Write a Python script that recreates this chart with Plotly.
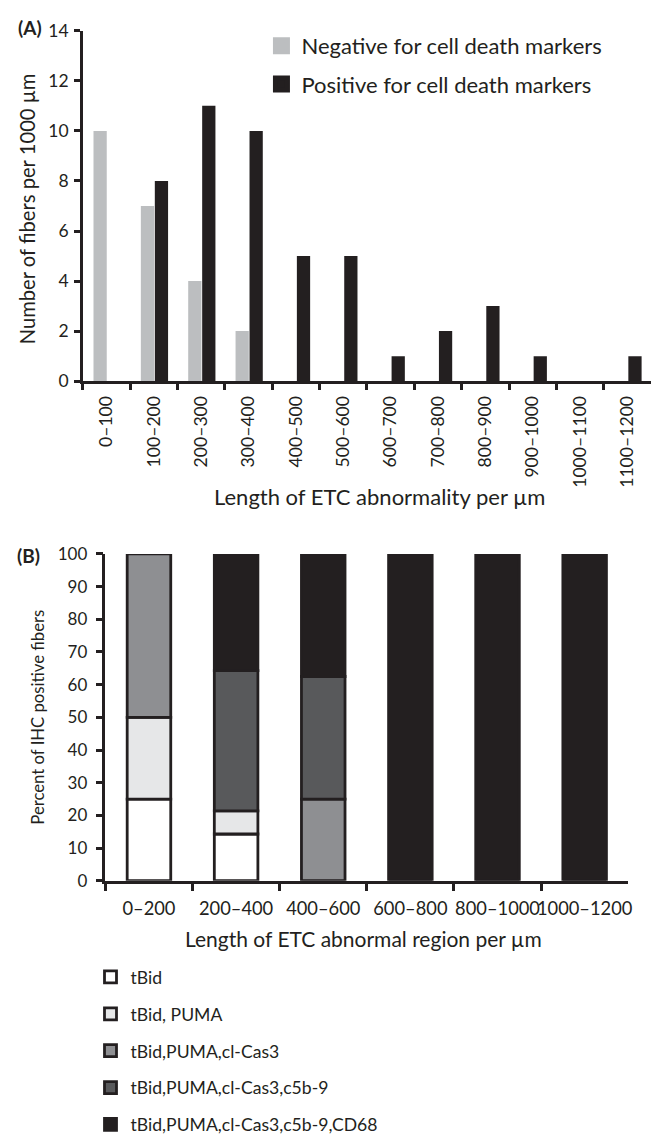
import numpy as np
import plotly.graph_objects as go

# ---------------- Data ----------------
cats_a = ["0–100", "100–200", "200–300", "300–400", "400–500", "500–600",
          "600–700", "700–800", "800–900", "900–1000", "1000–1100", "1100–1200"]
negative = [10, 7, 4, 2, 0, 0, 0, 0, 0, 0, 0, 0]
positive = [0, 8, 11, 10, 5, 5, 1, 2, 3, 1, 0, 1]
series_a_names = ["Negative for cell death markers", "Positive for cell death markers"]

cats_b = ["0–200", "200–400", "400–600", "600–800", "800–1000", "1000–1200"]
tbid = [25, 14.3, 0, 0, 0, 0]
tbid_puma = [25, 7.1, 0, 0, 0, 0]
tbid_puma_cas3 = [50, 0, 25, 0, 0, 0]
tbid_puma_cas3_c5b9 = [0, 42.9, 37.5, 0, 0, 0]
tbid_puma_cas3_c5b9_cd68 = [0, 35.7, 37.5, 100, 100, 100]
series_b_names = ["tBid", "tBid, PUMA", "tBid,PUMA,cl-Cas3",
                  "tBid,PUMA,cl-Cas3,c5b-9", "tBid,PUMA,cl-Cas3,c5b-9,CD68"]

# ---------------- Styles ----------------
PAGE_W, PAGE_H = 667, 1143
M = 8  # browser body margin
W, H = PAGE_W - M, PAGE_H - M
DARK = "#231f20"
FONT = "Lato"
colors_a = ["#bcbec0", DARK]
colors_b = ["#ffffff", "#e6e7e8", "#8e8f92", "#58595b", DARK]


def px_x(p):
    return (p - M) / W


def px_y(p):
    return 1 - (p - M) / H


def nz(vals):
    return [v if v else None for v in vals]


fig = go.Figure()

# Panel A: grouped bars via explicit offsets
offsets_a = [-0.275, 0.02]
widths_a = [0.28, 0.28]
for i, (name, vals, col, off, wd) in enumerate(zip(series_a_names, [negative, positive],
                                                   colors_a, offsets_a, widths_a)):
    fig.add_trace(go.Bar(
        x=cats_a, y=nz(vals), name=name,
        marker=dict(color=col, line=dict(width=0, color=col)),
        offset=off, width=wd, xaxis="x", yaxis="y", legend="legend",
        legendgroup=f"a{i}", showlegend=False))
    # legend-only twin with a larger swatch
    fig.add_trace(go.Bar(
        x=[None], y=[None], name=name,
        marker=dict(color=col, line=dict(width=6, color=col)),
        xaxis="x", yaxis="y", legend="legend", legendgroup=f"a{i}", showlegend=True))

# Panel B: stacked bars via cumulative base
stack = np.array([tbid, tbid_puma, tbid_puma_cas3, tbid_puma_cas3_c5b9,
                  tbid_puma_cas3_c5b9_cd68], dtype=float)
bases = np.vstack([np.zeros(stack.shape[1]), np.cumsum(stack, axis=0)[:-1]])
for i, (name, col) in enumerate(zip(series_b_names, colors_b)):
    fig.add_trace(go.Bar(
        x=cats_b, y=nz(list(stack[i])), base=list(bases[i]), name=name,
        marker=dict(color=col, line=dict(width=2.8, color=DARK)),
        width=0.5, xaxis="x2", yaxis="y2", legend="legend2",
        legendgroup=f"b{i}", showlegend=True))

axis_common = dict(showline=True, linewidth=2.5, linecolor=DARK, ticks="outside",
                   tickcolor=DARK, tickwidth=2.5, showgrid=False, zeroline=False,
                   fixedrange=True)

fig.update_layout(
    width=W, height=H, autosize=False,
    margin=dict(l=0, r=0, t=0, b=0),
    paper_bgcolor="white", plot_bgcolor="white",
    barmode="overlay",
    font=dict(family=FONT, color=DARK),
    xaxis=dict(**axis_common, domain=[px_x(83.3), px_x(655)], anchor="y",
               type="category", range=[-0.5, 11.5], tickson="boundaries",
               ticklen=6, tickangle=-90, ticklabelstandoff=5,
               tickfont=dict(size=17.6, color=DARK)),
    yaxis=dict(**axis_common, domain=[px_y(377), px_y(20)], anchor="x",
               range=[0, 14], dtick=2, ticklen=6, ticklabelstandoff=2,
               tickfont=dict(size=17.5, color=DARK)),
    xaxis2=dict(**axis_common, domain=[px_x(106), px_x(632)], anchor="y2",
                type="category", range=[-0.5, 5.5], tickson="boundaries",
                ticklen=7, tickangle=0, ticklabelstandoff=10,
                tickfont=dict(size=18.3, color=DARK)),
    yaxis2=dict(**axis_common, domain=[px_y(886), px_y(553)], anchor="x2",
                range=[0, 100], dtick=10, ticklen=7, ticklabelstandoff=5,
                tickfont=dict(size=17, color=DARK)),
    legend=dict(x=px_x(263), y=px_y(14), xanchor="left", yanchor="top",
                font=dict(size=22, color=DARK), bgcolor="rgba(0,0,0,0)",
                traceorder="grouped", tracegroupgap=6.7, itemclick=False),
    legend2=dict(x=px_x(91), y=px_y(966), xanchor="left", yanchor="top",
                 font=dict(size=17.6, color=DARK), bgcolor="rgba(0,0,0,0)",
                 traceorder="grouped", tracegroupgap=11, itemclick=False),
    showlegend=True,
)

annotations = [
    dict(text="<b>(A)</b>", x=px_x(30), y=px_y(17), font=dict(size=19)),
    dict(text="<b>(B)</b>", x=px_x(29), y=px_y(555), font=dict(size=19)),
    dict(text="Number of fibers per 1000 µm", x=px_x(28), y=px_y(201), textangle=-90,
         font=dict(size=20.2)),
    dict(text="Length of ETC abnormality per µm", x=px_x(382), y=px_y(495),
         font=dict(size=22)),
    dict(text="Percent of IHC positive fibers", x=px_x(38), y=px_y(719), textangle=-90,
         font=dict(size=16.7)),
    dict(text="Length of ETC abnormal region per µm", x=px_x(366), y=px_y(945),
         font=dict(size=21)),
]
for a in annotations:
    a.update(xref="paper", yref="paper", showarrow=False, xanchor="center", yanchor="middle")
    a["font"].update(family=FONT, color=DARK)
fig.update_layout(annotations=annotations)

fig.write_html("out.html")
